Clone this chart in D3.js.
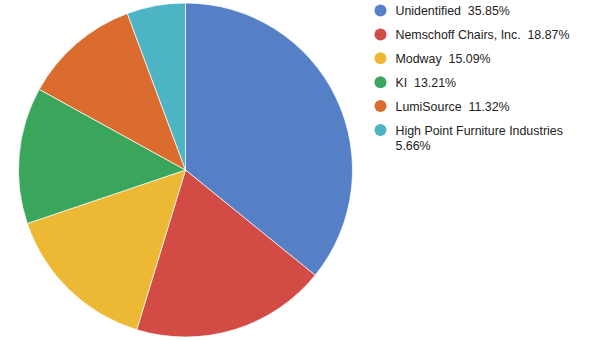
<!DOCTYPE html>
<html>
<head>
<meta charset="utf-8">
<script src="https://cdn.jsdelivr.net/npm/d3@7"></script>
<style>
  body { margin: 0; background: #fff; }
  text { font-family: "Liberation Sans", Arial, sans-serif; }
</style>
</head>
<body>
<div id="chart"></div>
<script>
// counts behind the shares (out of 53)
const names = ["Unidentified", "Nemschoff Chairs, Inc.", "Modway", "KI", "LumiSource", "High Point Furniture Industries"];
const counts = [19, 10, 8, 7, 6, 3];
const colors = ["#5580c5", "#d24b44", "#edb833", "#3aa65b", "#da6c30", "#4cb4c2"];

const width = 590, height = 340;
const cx = 185.5, cy = 170, radius = 167;

const svg = d3.select("#chart").append("svg")
    .attr("width", width)
    .attr("height", height);

const total = d3.sum(counts);
const data = names.map((n, i) => ({name: n, value: counts[i], color: colors[i]}));

const pie = d3.pie().sort(null).value(d => d.value);
const arc = d3.arc().innerRadius(0).outerRadius(radius);

const g = svg.append("g").attr("transform", "translate(" + cx + "," + cy + ")");
g.selectAll("path")
    .data(pie(data))
    .enter()
    .append("path")
    .attr("d", arc)
    .attr("fill", d => d.data.color)
    .attr("stroke", "#fff")
    .attr("stroke-width", 0.7);

// legend
const fmt = d => (d.value / total * 100).toFixed(2) + "%";
const legendY = d3.scalePoint().domain(names).range([10.5, 130]);
const lg = svg.append("g");
const items = lg.selectAll("g")
    .data(data)
    .enter()
    .append("g")
    .attr("transform", d => "translate(380.5," + legendY(d.name) + ")");

items.append("circle")
    .attr("r", 6)
    .attr("fill", d => d.color);

items.each(function(d) {
    const t = d3.select(this).append("text")
        .attr("x", 15)
        .attr("y", 4.5)
        .attr("font-size", 12.4)
        .attr("fill", "#222")
        .style("white-space", "pre");
    if (d.name.length > 25) {
        t.append("tspan").attr("x", 15).text(d.name);
        t.append("tspan").attr("x", 15).attr("dy", 15).text(fmt(d));
    } else {
        t.text(d.name + "  " + fmt(d));
    }
});
</script>
</body>
</html>
